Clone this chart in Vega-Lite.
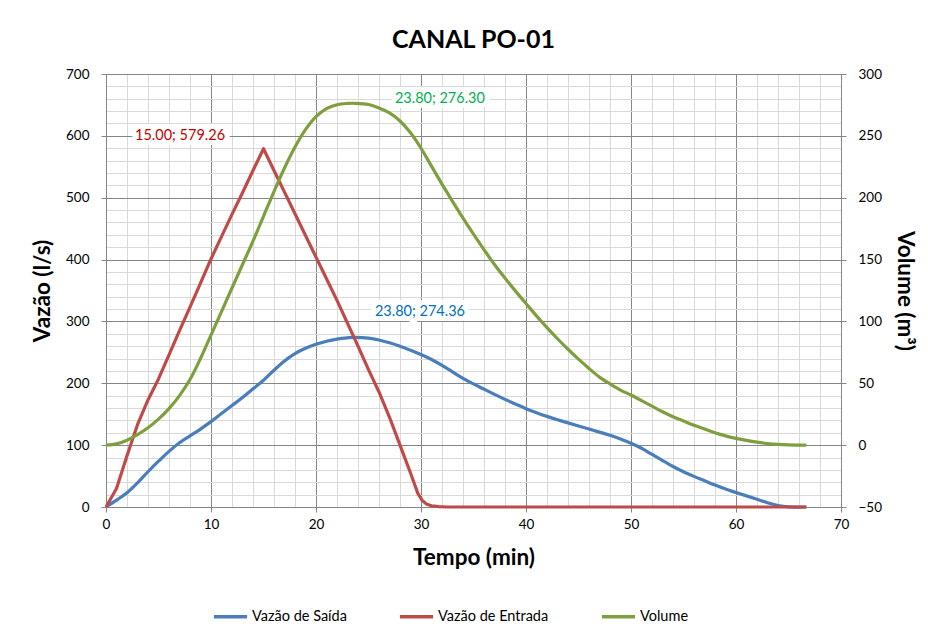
{
  "$schema": "https://vega.github.io/schema/vega-lite/v6.json",
  "width": 735,
  "height": 433,
  "autosize": {"type": "none"},
  "padding": {"left": 106, "top": 74, "right": 87, "bottom": 126},
  "background": "white",
  "title": {"text": "CANAL PO-01", "font": "Lato", "fontSize": 25, "fontWeight": "bold", "color": "#000000", "anchor": "middle", "offset": 14},
  "config": {
    "font": "Lato",
    "view": {"stroke": "#868686", "strokeWidth": 1},
    "axis": {
      "labelFont": "Lato", "labelFontSize": 13.5, "labelColor": "#000000",
      "titleFont": "Lato", "titleFontSize": 22.5, "titleFontWeight": "bold", "titleColor": "#000000",
      "domainColor": "#868686", "tickColor": "#868686", "tickSize": 5
    }
  },
  "datasets": {
    "series": [
      {"serie": "Vazão de Saída", "t": 0, "v": 0}, {"serie": "Vazão de Saída", "t": 1, "v": 11}, {"serie": "Vazão de Saída", "t": 2, "v": 23}, {"serie": "Vazão de Saída", "t": 3, "v": 39}, {"serie": "Vazão de Saída", "t": 4, "v": 57}, {"serie": "Vazão de Saída", "t": 5, "v": 74}, {"serie": "Vazão de Saída", "t": 6, "v": 90}, {"serie": "Vazão de Saída", "t": 7, "v": 104}, {"serie": "Vazão de Saída", "t": 8, "v": 115}, {"serie": "Vazão de Saída", "t": 9, "v": 126}, {"serie": "Vazão de Saída", "t": 10, "v": 138}, {"serie": "Vazão de Saída", "t": 11, "v": 151}, {"serie": "Vazão de Saída", "t": 12, "v": 164}, {"serie": "Vazão de Saída", "t": 13, "v": 177}, {"serie": "Vazão de Saída", "t": 14, "v": 191}, {"serie": "Vazão de Saída", "t": 15, "v": 205}, {"serie": "Vazão de Saída", "t": 16, "v": 221}, {"serie": "Vazão de Saída", "t": 17, "v": 236}, {"serie": "Vazão de Saída", "t": 18, "v": 248}, {"serie": "Vazão de Saída", "t": 19, "v": 256.5}, {"serie": "Vazão de Saída", "t": 20, "v": 263}, {"serie": "Vazão de Saída", "t": 21, "v": 268}, {"serie": "Vazão de Saída", "t": 22, "v": 271.5}, {"serie": "Vazão de Saída", "t": 23, "v": 273.5}, {"serie": "Vazão de Saída", "t": 23.8, "v": 274.36}, {"serie": "Vazão de Saída", "t": 25, "v": 273}, {"serie": "Vazão de Saída", "t": 26, "v": 270}, {"serie": "Vazão de Saída", "t": 27, "v": 265.5}, {"serie": "Vazão de Saída", "t": 28, "v": 260}, {"serie": "Vazão de Saída", "t": 29, "v": 253.5}, {"serie": "Vazão de Saída", "t": 30, "v": 246.5}, {"serie": "Vazão de Saída", "t": 31, "v": 238.5}, {"serie": "Vazão de Saída", "t": 32, "v": 229}, {"serie": "Vazão de Saída", "t": 33, "v": 218.5}, {"serie": "Vazão de Saída", "t": 34, "v": 208}, {"serie": "Vazão de Saída", "t": 35, "v": 199}, {"serie": "Vazão de Saída", "t": 36, "v": 190.5}, {"serie": "Vazão de Saída", "t": 37, "v": 182}, {"serie": "Vazão de Saída", "t": 38, "v": 174}, {"serie": "Vazão de Saída", "t": 39, "v": 166.5}, {"serie": "Vazão de Saída", "t": 40, "v": 159}, {"serie": "Vazão de Saída", "t": 41, "v": 152.5}, {"serie": "Vazão de Saída", "t": 42, "v": 146.5}, {"serie": "Vazão de Saída", "t": 43, "v": 141}, {"serie": "Vazão de Saída", "t": 44, "v": 136}, {"serie": "Vazão de Saída", "t": 45, "v": 131}, {"serie": "Vazão de Saída", "t": 46, "v": 126}, {"serie": "Vazão de Saída", "t": 47, "v": 121}, {"serie": "Vazão de Saída", "t": 48, "v": 116}, {"serie": "Vazão de Saída", "t": 49, "v": 110}, {"serie": "Vazão de Saída", "t": 50, "v": 103}, {"serie": "Vazão de Saída", "t": 51, "v": 95}, {"serie": "Vazão de Saída", "t": 52, "v": 85}, {"serie": "Vazão de Saída", "t": 53, "v": 75}, {"serie": "Vazão de Saída", "t": 54, "v": 65.5}, {"serie": "Vazão de Saída", "t": 55, "v": 57}, {"serie": "Vazão de Saída", "t": 56, "v": 49.5}, {"serie": "Vazão de Saída", "t": 57, "v": 42.5}, {"serie": "Vazão de Saída", "t": 58, "v": 35.5}, {"serie": "Vazão de Saída", "t": 59, "v": 29}, {"serie": "Vazão de Saída", "t": 60, "v": 23.5}, {"serie": "Vazão de Saída", "t": 61, "v": 18}, {"serie": "Vazão de Saída", "t": 62, "v": 12.5}, {"serie": "Vazão de Saída", "t": 63, "v": 7}, {"serie": "Vazão de Saída", "t": 64, "v": 2.5}, {"serie": "Vazão de Saída", "t": 65, "v": 0.3}, {"serie": "Vazão de Saída", "t": 66.7, "v": 0},
      {"serie": "Vazão de Entrada", "t": 0, "v": 0}, {"serie": "Vazão de Entrada", "t": 1, "v": 30}, {"serie": "Vazão de Entrada", "t": 2, "v": 83}, {"serie": "Vazão de Entrada", "t": 3, "v": 133}, {"serie": "Vazão de Entrada", "t": 4, "v": 173}, {"serie": "Vazão de Entrada", "t": 5, "v": 207}, {"serie": "Vazão de Entrada", "t": 6, "v": 246}, {"serie": "Vazão de Entrada", "t": 7, "v": 285}, {"serie": "Vazão de Entrada", "t": 8, "v": 323}, {"serie": "Vazão de Entrada", "t": 9, "v": 362}, {"serie": "Vazão de Entrada", "t": 10, "v": 401}, {"serie": "Vazão de Entrada", "t": 11, "v": 437}, {"serie": "Vazão de Entrada", "t": 12, "v": 473}, {"serie": "Vazão de Entrada", "t": 13, "v": 508}, {"serie": "Vazão de Entrada", "t": 14, "v": 544}, {"serie": "Vazão de Entrada", "t": 15, "v": 579.26}, {"serie": "Vazão de Entrada", "t": 16, "v": 544}, {"serie": "Vazão de Entrada", "t": 17, "v": 509}, {"serie": "Vazão de Entrada", "t": 18, "v": 474}, {"serie": "Vazão de Entrada", "t": 19, "v": 439}, {"serie": "Vazão de Entrada", "t": 20, "v": 404}, {"serie": "Vazão de Entrada", "t": 21, "v": 369}, {"serie": "Vazão de Entrada", "t": 22, "v": 334}, {"serie": "Vazão de Entrada", "t": 23, "v": 297}, {"serie": "Vazão de Entrada", "t": 24, "v": 260}, {"serie": "Vazão de Entrada", "t": 25, "v": 222}, {"serie": "Vazão de Entrada", "t": 26, "v": 186}, {"serie": "Vazão de Entrada", "t": 27, "v": 145}, {"serie": "Vazão de Entrada", "t": 28, "v": 100}, {"serie": "Vazão de Entrada", "t": 29, "v": 55}, {"serie": "Vazão de Entrada", "t": 29.7, "v": 22}, {"serie": "Vazão de Entrada", "t": 30.1, "v": 11}, {"serie": "Vazão de Entrada", "t": 30.5, "v": 5}, {"serie": "Vazão de Entrada", "t": 31, "v": 2}, {"serie": "Vazão de Entrada", "t": 31.7, "v": 0.5}, {"serie": "Vazão de Entrada", "t": 32.5, "v": 0}, {"serie": "Vazão de Entrada", "t": 66.7, "v": 0},
      {"serie": "Volume", "t": 0, "v": 0}, {"serie": "Volume", "t": 1, "v": 1}, {"serie": "Volume", "t": 2, "v": 4}, {"serie": "Volume", "t": 3, "v": 8.5}, {"serie": "Volume", "t": 4, "v": 14}, {"serie": "Volume", "t": 5, "v": 21}, {"serie": "Volume", "t": 6, "v": 29.5}, {"serie": "Volume", "t": 7, "v": 40}, {"serie": "Volume", "t": 8, "v": 53}, {"serie": "Volume", "t": 9, "v": 70}, {"serie": "Volume", "t": 10, "v": 89}, {"serie": "Volume", "t": 11, "v": 108}, {"serie": "Volume", "t": 12, "v": 127}, {"serie": "Volume", "t": 13, "v": 146}, {"serie": "Volume", "t": 14, "v": 165}, {"serie": "Volume", "t": 15, "v": 185}, {"serie": "Volume", "t": 16, "v": 205}, {"serie": "Volume", "t": 17, "v": 224}, {"serie": "Volume", "t": 18, "v": 241}, {"serie": "Volume", "t": 19, "v": 255}, {"serie": "Volume", "t": 20, "v": 265.5}, {"serie": "Volume", "t": 21, "v": 272}, {"serie": "Volume", "t": 22, "v": 275.2}, {"serie": "Volume", "t": 23, "v": 276.2}, {"serie": "Volume", "t": 23.8, "v": 276.3}, {"serie": "Volume", "t": 25, "v": 275.3}, {"serie": "Volume", "t": 26, "v": 272.5}, {"serie": "Volume", "t": 27, "v": 268.5}, {"serie": "Volume", "t": 28, "v": 262}, {"serie": "Volume", "t": 29, "v": 252.5}, {"serie": "Volume", "t": 30, "v": 240}, {"serie": "Volume", "t": 31, "v": 225.5}, {"serie": "Volume", "t": 32, "v": 211}, {"serie": "Volume", "t": 33, "v": 197}, {"serie": "Volume", "t": 34, "v": 183.5}, {"serie": "Volume", "t": 35, "v": 170.5}, {"serie": "Volume", "t": 36, "v": 158}, {"serie": "Volume", "t": 37, "v": 146}, {"serie": "Volume", "t": 38, "v": 135}, {"serie": "Volume", "t": 39, "v": 124.5}, {"serie": "Volume", "t": 40, "v": 114.5}, {"serie": "Volume", "t": 41, "v": 104.5}, {"serie": "Volume", "t": 42, "v": 95}, {"serie": "Volume", "t": 43, "v": 86}, {"serie": "Volume", "t": 44, "v": 77.5}, {"serie": "Volume", "t": 45, "v": 69.5}, {"serie": "Volume", "t": 46, "v": 62}, {"serie": "Volume", "t": 47, "v": 55}, {"serie": "Volume", "t": 48, "v": 49.5}, {"serie": "Volume", "t": 49, "v": 44.5}, {"serie": "Volume", "t": 50, "v": 40.5}, {"serie": "Volume", "t": 51, "v": 36}, {"serie": "Volume", "t": 52, "v": 31.5}, {"serie": "Volume", "t": 53, "v": 27}, {"serie": "Volume", "t": 54, "v": 23}, {"serie": "Volume", "t": 55, "v": 19.5}, {"serie": "Volume", "t": 56, "v": 16}, {"serie": "Volume", "t": 57, "v": 13}, {"serie": "Volume", "t": 58, "v": 10}, {"serie": "Volume", "t": 59, "v": 7.5}, {"serie": "Volume", "t": 60, "v": 5.5}, {"serie": "Volume", "t": 61, "v": 3.8}, {"serie": "Volume", "t": 62, "v": 2.4}, {"serie": "Volume", "t": 63, "v": 1.3}, {"serie": "Volume", "t": 64, "v": 0.6}, {"serie": "Volume", "t": 65, "v": 0.2}, {"serie": "Volume", "t": 66.7, "v": 0}
    ],
    "labels": [
      {"serie": "Vazão de Entrada", "t": 7.05, "v": 600, "label": "15.00; 579.26"},
      {"serie": "Vazão de Saída", "t": 29.9, "v": 315, "label": "23.80; 274.36"},
      {"serie": "Volume", "t": 31.8, "v": 279.5, "label": "23.80; 276.30"}
    ]
  },
  "encoding": {
    "x": {
      "field": "t", "type": "quantitative",
      "scale": {"domain": [0, 70], "nice": false, "zero": false},
      "axis": {
        "title": "Tempo (min)",
        "values": [0,2,4,6,8,10,12,14,16,18,20,22,24,26,28,30,32,34,36,38,40,42,44,46,48,50,52,54,56,58,60,62,64,66,68,70],
        "labelExpr": "datum.value % 10 === 0 ? datum.label : ''",
        "grid": true,
        "gridColor": {"condition": {"test": "datum.value % 10 === 0", "value": "#868686"}, "value": "#D9D9D9"},
        "tickOpacity": {"condition": {"test": "datum.value % 10 === 0", "value": 1}, "value": 0},
        "labelPadding": 5,
        "titlePadding": 16,
        "labelFlush": false
      }
    }
  },
  "layer": [
    {
      "encoding": {
        "y": {
          "field": "v", "type": "quantitative",
          "scale": {"domain": [0, 700], "nice": false},
          "axis": {
            "title": "Vazão (l/s)",
            "orient": "left",
            "values": [0,20,40,60,80,100,120,140,160,180,200,220,240,260,280,300,320,340,360,380,400,420,440,460,480,500,520,540,560,580,600,620,640,660,680,700],
            "labelExpr": "datum.value % 100 === 0 ? datum.label : ''",
            "grid": true,
            "gridColor": {"condition": {"test": "datum.value % 100 === 0", "value": "#868686"}, "value": "#D9D9D9"},
            "tickOpacity": {"condition": {"test": "datum.value % 100 === 0", "value": 1}, "value": 0},
            "labelPadding": 12,
            "titlePadding": 11,
            "labelFlush": false
          }
        }
      },
      "layer": [
        {
          "data": {"name": "series"},
          "transform": [{"filter": "datum.serie === 'Vazão de Saída'"}],
          "mark": {"type": "line", "interpolate": "catmull-rom", "strokeWidth": 3.2},
          "encoding": {
            "color": {"field": "serie", "type": "nominal",
              "scale": {"domain": ["Vazão de Saída", "Vazão de Entrada", "Volume"], "range": ["#4A7EBB", "#BE4B48", "#7F9F3F"]},
              "legend": {"orient": "none", "legendX": 106, "legendY": 524, "direction": "horizontal", "title": null, "symbolType": "stroke", "symbolStrokeWidth": 3.5, "symbolSize": 1100, "labelFont": "Lato", "labelFontSize": 14.5, "labelColor": "#000000", "columnPadding": 45, "labelOffset": 3}
            }
          }
        },
        {
          "data": {"name": "series"},
          "transform": [{"filter": "datum.serie === 'Vazão de Entrada'"}],
          "mark": {"type": "line", "interpolate": "linear", "strokeWidth": 3.2, "strokeJoin": "round"},
          "encoding": {
            "color": {"field": "serie", "type": "nominal"}
          }
        },
        {
          "data": {"name": "labels"},
          "transform": [{"filter": "datum.serie !== 'Volume'"}],
          "mark": {"type": "text", "font": "Lato", "fontSize": 14.5, "stroke": "white", "strokeWidth": 10, "strokeJoin": "round", "fill": "white"},
          "encoding": {"text": {"field": "label"}}
        },
        {
          "data": {"name": "labels"},
          "transform": [{"filter": "datum.serie === 'Vazão de Entrada'"}],
          "mark": {"type": "text", "font": "Lato", "fontSize": 14.5, "color": "#C00000"},
          "encoding": {"text": {"field": "label"}}
        },
        {
          "data": {"name": "labels"},
          "transform": [{"filter": "datum.serie === 'Vazão de Saída'"}],
          "mark": {"type": "text", "font": "Lato", "fontSize": 14.5, "color": "#0070C0"},
          "encoding": {"text": {"field": "label"}}
        }
      ]
    },
    {
      "encoding": {
        "y": {
          "field": "v", "type": "quantitative",
          "scale": {"domain": [-50, 300], "nice": false, "zero": false},
          "axis": {
            "title": "Volume (m³)",
            "orient": "right",
            "values": [-50, 0, 50, 100, 150, 200, 250, 300],
            "grid": false,
            "labelPadding": 12,
            "titlePadding": 11,
            "labelFlush": false
          }
        }
      },
      "layer": [
        {
          "data": {"name": "series"},
          "transform": [{"filter": "datum.serie === 'Volume'"}],
          "mark": {"type": "line", "interpolate": "catmull-rom", "strokeWidth": 3.2},
          "encoding": {
            "color": {"field": "serie", "type": "nominal"}
          }
        },
        {
          "data": {"name": "labels"},
          "transform": [{"filter": "datum.serie === 'Volume'"}],
          "mark": {"type": "text", "font": "Lato", "fontSize": 14.5, "stroke": "white", "strokeWidth": 10, "strokeJoin": "round", "fill": "white"},
          "encoding": {"text": {"field": "label"}}
        },
        {
          "data": {"name": "labels"},
          "transform": [{"filter": "datum.serie === 'Volume'"}],
          "mark": {"type": "text", "font": "Lato", "fontSize": 14.5, "color": "#00B050"},
          "encoding": {"text": {"field": "label"}}
        }
      ]
    }
  ],
  "resolve": {"scale": {"y": "independent"}}
}
